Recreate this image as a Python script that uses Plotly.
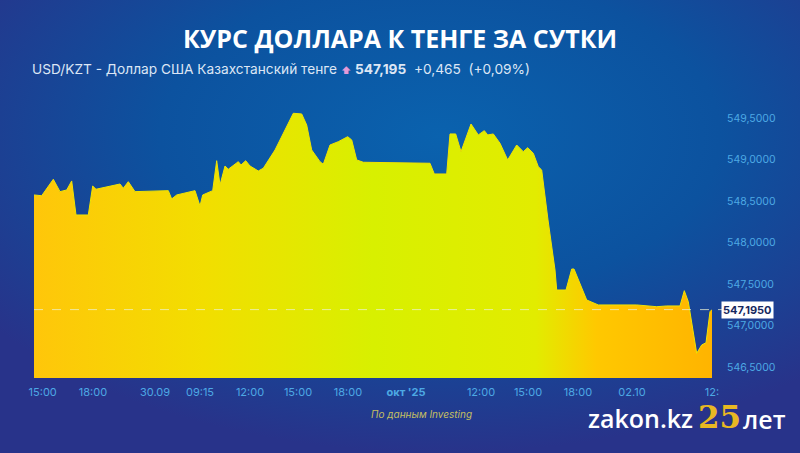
import base64
import plotly.graph_objects as go

# ---- data ----
x_idx = [0, 7.7, 19.3, 26, 32.7, 37.7, 42, 54.3, 58.7, 62, 86, 89.3, 94.3, 101,
         134.3, 137.7, 142.7, 161, 166, 168.7, 178.7, 182.7, 186, 191, 194.3,
         204.3, 207, 211.7, 216, 224.3, 229.3, 241, 247, 251, 259.3, 267.7,
         272.7, 277.7, 286, 289.3, 296, 304.3, 313.7, 317.7, 322.7, 329.3,
         396, 400.3, 412.7, 416, 421.7, 427, 437, 444.3, 450.3, 453.7, 459.3,
         466, 473.7, 482.7, 489.3, 493.7, 499.3, 504.3, 507.7, 514, 521, 522.7,
         532, 537.7, 540, 552.7, 564.3, 602.7, 622.7, 632.7, 646, 650.3, 654.3,
         662.7, 667.7, 672, 676, 678]
usd_kzt = [548.576, 548.567, 548.765, 548.616, 548.636, 548.745, 548.335, 548.335,
           548.684, 548.645, 548.708, 548.657, 548.736, 548.616, 548.628, 548.528,
           548.576, 548.628, 548.443, 548.576, 548.628, 548.989, 548.696, 548.925,
           548.886, 548.977, 548.937, 548.989, 548.925, 548.865, 548.898, 549.118,
           549.263, 549.359, 549.560, 549.552, 549.419, 549.118, 548.977, 548.946,
           549.178, 549.218, 549.278, 549.239, 548.998, 548.970, 548.958, 548.829,
           548.829, 549.311, 549.311, 549.098, 549.431, 549.299, 549.351, 549.299,
           549.311, 549.199, 548.998, 549.178, 549.098, 549.146, 549.078, 548.917,
           548.877, 548.275, 547.672, 547.431, 547.431, 547.684, 547.684, 547.311,
           547.251, 547.251, 547.230, 547.239, 547.239, 547.423, 547.290, 546.669,
           546.769, 546.796, 547.170, 547.195]
tick_pos = [8.7, 59, 121, 166, 216, 264, 314, 372, 447, 494, 544, 598, 678]
tick_labels = ["15:00", "18:00", "30.09", "09:15", "12:00", "15:00", "18:00",
               "<b>окт '25</b>", "12:00", "15:00", "18:00", "02.10", "12:"]
y_ticks = [546.5, 547.0, 547.5, 548.0, 548.5, 549.0, 549.5]
last_value = 547.195

W, H = 800, 453
ML, MR, MT, MB = 34, 88, 100, 75
PW, PH = W - ML - MR, H - MT - MB


def px(xp):
    return (xp - ML) / PW


def py(yp):
    return 1 - (yp - MT) / PH


bg_svg = (
    "<svg xmlns='http://www.w3.org/2000/svg' width='800' height='453'>"
    "<defs><radialGradient id='g' cx='0.55' cy='0.3' r='0.7'>"
    "<stop offset='0' stop-color='#0A62AE'/>"
    "<stop offset='0.5' stop-color='#0C529F'/>"
    "<stop offset='1' stop-color='#28338A'/>"
    "</radialGradient></defs>"
    "<rect width='800' height='453' fill='url(#g)'/></svg>"
)
bg_uri = "data:image/svg+xml;base64," + base64.b64encode(bg_svg.encode()).decode()

fig = go.Figure()
fig.add_trace(go.Scatter(
    x=x_idx, y=usd_kzt, mode="lines",
    line=dict(color="#F2E400", width=1),
    fill="tozeroy",
    fillgradient=dict(
        type="horizontal",
        colorscale=[[0, "#FFC60A"], [0.25, "#F2DE00"], [0.5, "#D8F000"],
                    [0.74, "#E2EC00"], [0.83, "#FFC800"], [1, "#FFB400"]],
    ),
    hoverinfo="skip", showlegend=False,
))

fig.add_shape(type="line", xref="paper", yref="y", x0=0, x1=px(722),
              y0=last_value, y1=last_value,
              line=dict(color="rgba(235,240,210,0.75)", width=1, dash="dash"))

fig.update_layout(
    width=W, height=H,
    margin=dict(l=ML, r=MR, t=MT, b=MB),
    paper_bgcolor="#0D4F9C",
    plot_bgcolor="rgba(0,0,0,0)",
    separators=", ",
    font=dict(family="Inter", color="#FFFFFF"),
    images=[dict(source=bg_uri, xref="paper", yref="paper",
                 x=-ML / PW, y=1 + MT / PH, sizex=W / PW, sizey=H / PH,
                 xanchor="left", yanchor="top", sizing="stretch",
                 layer="below")],
    xaxis=dict(range=[0, 678], showgrid=False, zeroline=False, showline=False,
               tickmode="array", tickvals=tick_pos, ticktext=tick_labels,
               ticks="", tickfont=dict(family="Inter", size=11, color="#4DA9E4"),
               ticklabelstandoff=6, fixedrange=True),
    yaxis=dict(range=[546.371, 549.72], side="right", showgrid=False,
               zeroline=False, showline=False, tickmode="array",
               tickvals=y_ticks, tickformat=".4f", ticks="",
               tickfont=dict(family="Inter", size=10.5, color="#4DA9E4"),
               ticklabelstandoff=14, fixedrange=True),
)

ann = [
    dict(text="<b>КУРС ДОЛЛАРА К ТЕНГЕ ЗА СУТКИ</b>", x=px(400), y=py(38),
         xanchor="center", yanchor="middle",
         font=dict(family="Open Sans", size=25, color="#FFFFFF")),
    dict(text="USD/KZT - Доллар США Казахстанский тенге "
              "<span style='color:#E59AD8;font-size:10px'>⬆</span> "
              "<b>547,195</b>  +0,465  (+0,09%)",
         x=px(30), y=py(69), xanchor="left", yanchor="middle",
         font=dict(family="Inter", size=13.7, color="#DCE6F5")),
    dict(text="<b>547,1950</b>", x=px(721), y=last_value, yref="y",
         xanchor="left", yanchor="middle", bgcolor="#FFFFFF",
         borderpad=1, font=dict(family="Inter", size=11, color="#17285E")),
    dict(text="<i>По данным Investing</i>", x=px(421), y=py(414),
         xanchor="center", yanchor="middle",
         font=dict(family="Inter", size=10, color="#C4BF62")),
    dict(text="zakon.kz", x=px(586), y=py(418), xanchor="left",
         yanchor="middle",
         font=dict(family="Open Sans", size=25, color="#FFFFFF", weight=600)),
    dict(text="<b>25</b>", x=px(696), y=py(417), xanchor="left",
         yanchor="middle",
         font=dict(family="DejaVu Serif", size=31, color="#E8B822")),
    dict(text="лет", x=px(741), y=py(419), xanchor="left", yanchor="middle",
         font=dict(family="Open Sans", size=25, color="#FFFFFF", weight=600)),
]
for a in ann:
    a.setdefault("xref", "paper")
    a.setdefault("yref", "paper")
    a["showarrow"] = False
fig.update_layout(annotations=ann)

fig.write_html("out.html", config={"displayModeBar": False},
               post_script="document.body.style.margin='0';")
